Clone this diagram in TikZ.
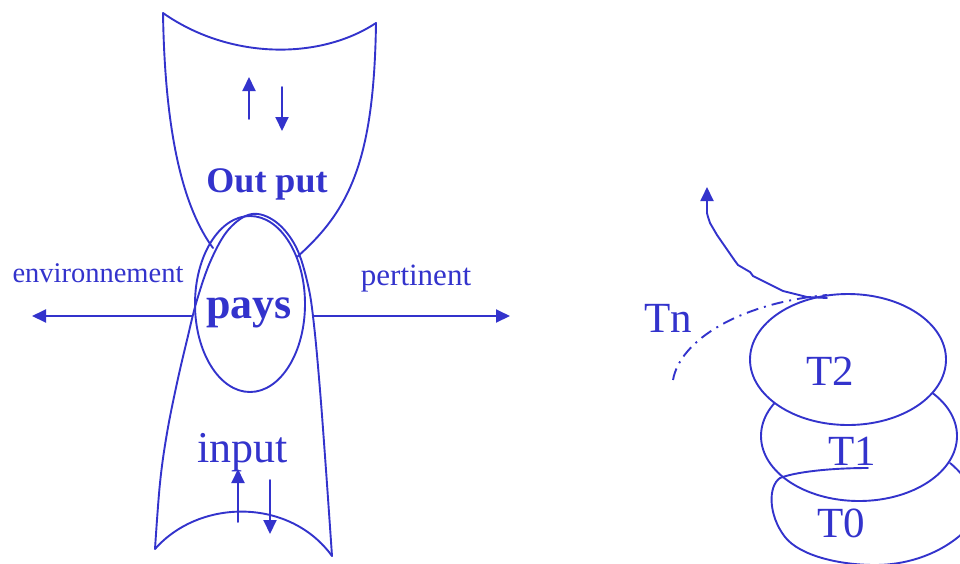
\documentclass[tikz,border=0pt]{standalone}
\usepackage{fontspec}
\setmainfont{Liberation Serif}
\usetikzlibrary{arrows.meta}
\definecolor{ink}{RGB}{51,51,204}
\tikzset{
  line/.style={draw=ink, line width=1.9pt, line join=round, line cap=round},
  arr/.style={line, -{Triangle[length=14pt,width=13pt]}},
  lbl/.style={text=ink, inner sep=0pt, anchor=base},
  tndash/.style={line, line cap=butt, dash pattern=on 12pt off 6pt on 2pt off 6pt}
}
\newcommand{\fs}[1]{\fontsize{#1}{#1}\selectfont}
\begin{document}
\begin{tikzpicture}[x=1pt,y=-1pt]
\useasboundingbox (0,0) rectangle (960,563);
\clip (0,0) rectangle (960,563);

% output funnel
\draw[line] (213,248) .. controls (185,210) and (165,140) .. (163,13)
  .. controls (230,60) and (320,60) .. (376,23)
  .. controls (374,160) and (350,210) .. (297,257);

% input funnel (pointed arch + concave bottom)
\draw[line] plot[smooth, tension=0.6] coordinates {(155,549) (160,483) (167,433) (177,383) (187,340) (197,300) (211,260) (229,229) (252,214) (276,222) (296,247) (308,285) (314,325) (320,390) (326,470) (332,556)};
\draw[line] (155,549) .. controls (200,498) and (290,498) .. (332,556);

% pays ellipse
\draw[line] (250,304) ellipse (55pt and 88pt);

% axis
\coordinate (axL) at (192,316);
\coordinate (axR) at (313,316);
\coordinate (tipL) at (32,316);
\coordinate (tipR) at (510,316);
\draw[arr] (axL) -- (tipL);
\draw[arr] (axR) -- (tipR);

% small arrows
\coordinate (o1a) at (249,119); \coordinate (o1b) at (249,77);
\coordinate (o2a) at (282,87);  \coordinate (o2b) at (282,131);
\coordinate (i1a) at (238,522); \coordinate (i1b) at (238,469);
\coordinate (i2a) at (270,480); \coordinate (i2b) at (270,534);
\draw[arr] (o1a) -- (o1b);
\draw[arr] (o2a) -- (o2b);
\draw[arr] (i1a) -- (i1b);
\draw[arr] (i2a) -- (i2b);

% labels left
\node[lbl] (env) at (98,282) {\fs{28.5}environnement};
\node[lbl] (pert) at (416,285) {\fs{31}pertinent};
\node[lbl] (pays) at (249,318) {\fs{44}\bfseries pays};
\node[lbl] (out) at (267,192) {\fs{36}\bfseries Out put};
\node[lbl] (inp) at (242.5,462) {\fs{44}input};

% right: stacked ellipses
\draw[line] (848,359.5) ellipse (98pt and 65.5pt);
\begin{scope}[even odd rule]
  \clip (-10,-10) rectangle (970,573) (848,359.5) ellipse (98pt and 65.5pt);
  \draw[line] (859,436) ellipse (98pt and 65pt);
\end{scope}
% T0 (partly hidden)
\draw[line] (868,468) .. controls (830,468) and (795,472) .. (780,478)
  .. controls (768,486) and (768,515) .. (785,537)
  .. controls (800,556) and (840,565) .. (875,565)
  .. controls (910,565) and (945,552) .. (968,528);
\draw[line] (950,463) .. controls (955,467) and (960,472) .. (966,480);

\node[lbl] (T2) at (830,385) {\fs{43}T2};
\node[lbl] (T1) at (852,465) {\fs{43}T1};
\node[lbl] (T0) at (841,537) {\fs{43}T0};
\node[lbl] (Tn) at (668,332) {\fs{43}Tn};

% Tn dash-dot curve
\coordinate (tnA) at (673,380);
\coordinate (tnB) at (827,295);
\draw[tndash] (tnA) .. controls (680,340) and (740,303) .. (tnB);

% wavy arrow
\draw[arr] (827,298) -- (807,297) -- (783,291) -- (775,287) -- (757,278) -- (753,276) -- (750,272) -- (738,265) -- (735,261) -- (717,235) -- (710,223) -- (708,217) -- (707,213) -- (707,187);
\end{tikzpicture}
\end{document}
